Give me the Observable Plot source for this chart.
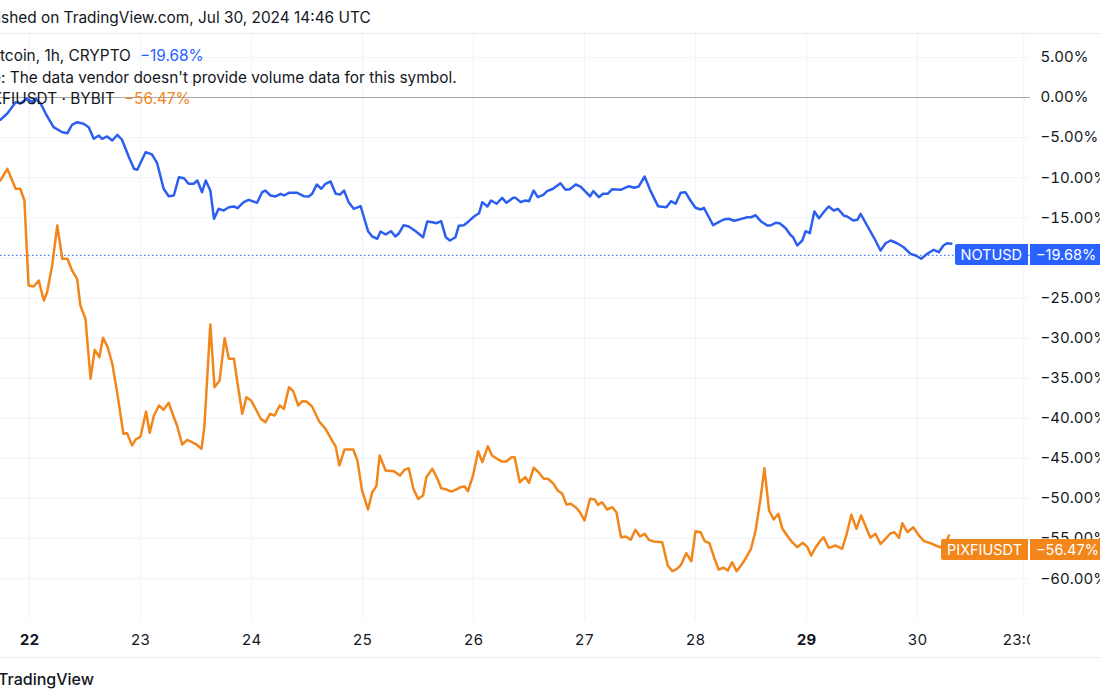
<!DOCTYPE html>
<html>
<head>
<meta charset="utf-8">
<script src="https://cdn.jsdelivr.net/npm/d3@7"></script>
<script src="https://cdn.jsdelivr.net/npm/@observablehq/plot@0.6"></script>
<style>
html,body{margin:0;padding:0;background:#fff;}
body{width:1100px;height:700px;overflow:hidden;position:relative;font-family:Inter,"Noto Sans",sans-serif;color:#131722;}
#chart{position:absolute;left:0;top:0;}
.t{position:absolute;white-space:nowrap;font-size:15.4px;line-height:20px;}
.sep{position:absolute;left:0;width:1100px;height:1px;background:#e9ebf0;}
.box{position:absolute;height:21px;line-height:21px;color:#fff;font-size:14.5px;padding:0 6px;white-space:nowrap;box-sizing:border-box;}
</style>
</head>
<body>
<div id="chart"></div>
<script>
// ---- data ----
// time: hours after 2024-07-22 00:00 UTC, value: % change
const notusd = [[-6.3,-2.78],[-4.8,-2.0],[-3.0,-0.59],[-2.0,-0.75],[-0.5,-0.12],[0.6,-0.59],[1.3,-0.12],[2.4,-0.75],[3.5,-2.0],[5.2,-3.7],[7.1,-4.33],[8.2,-4.45],[9.2,-3.4],[10.3,-3.08],[11.7,-3.28],[12.8,-3.7],[13.9,-5.15],[15.0,-4.74],[15.7,-5.15],[16.8,-4.86],[17.9,-5.36],[19.0,-4.65],[20.0,-5.27],[21.5,-7.44],[22.6,-8.89],[23.3,-9.01],[25.1,-6.82],[26.5,-7.11],[27.6,-8.19],[29.0,-11.38],[30.1,-12.31],[31.2,-12.22],[32.3,-9.94],[33.4,-10.06],[34.4,-10.76],[35.5,-10.76],[36.3,-10.35],[37.3,-11.81],[38.1,-10.35],[39.1,-11.6],[39.9,-15.13],[40.9,-13.88],[42.0,-14.09],[43.1,-13.68],[44.2,-13.59],[45.0,-13.8],[46.3,-13.05],[47.4,-12.76],[49.2,-13.13],[50.3,-11.81],[51.0,-11.6],[52.1,-12.22],[53.2,-12.34],[54.3,-12.01],[55.0,-12.22],[56.1,-11.88],[57.9,-11.88],[59.3,-12.31],[60.4,-12.34],[61.1,-12.01],[62.1,-10.85],[63.1,-11.38],[64.0,-10.76],[65.1,-10.47],[66.2,-12.01],[67.2,-12.09],[68.0,-11.6],[69.0,-13.05],[70.1,-13.88],[71.6,-13.55],[72.3,-14.93],[73.2,-16.67],[74.1,-17.33],[75.2,-17.62],[75.9,-16.71],[77.0,-17.08],[78.2,-16.67],[79.1,-17.33],[79.9,-16.92],[80.9,-15.92],[82.0,-16.08],[83.5,-16.67],[85.1,-17.42],[86.0,-15.46],[87.1,-15.55],[88.0,-15.67],[89.0,-15.42],[90.0,-17.42],[90.9,-17.83],[92.1,-17.42],[92.8,-16.0],[93.9,-15.92],[95.0,-15.42],[96.1,-14.84],[97.2,-14.43],[97.9,-13.05],[99.0,-13.59],[99.8,-12.84],[101.0,-13.25],[102.2,-12.51],[103.1,-13.13],[104.6,-12.51],[105.1,-12.51],[106.2,-13.05],[107.2,-12.84],[108.0,-12.93],[109.0,-11.6],[109.9,-12.43],[111.1,-12.13],[111.9,-11.68],[113.2,-11.38],[114.8,-10.69],[115.9,-11.51],[116.8,-11.43],[118.1,-10.85],[119.1,-11.1],[120.0,-11.6],[121.2,-12.34],[121.9,-11.68],[123.1,-12.43],[124.0,-12.01],[125.0,-12.01],[126.0,-11.43],[127.8,-11.51],[129.6,-11.06],[130.7,-11.26],[131.7,-11.1],[133.0,-9.85],[134.3,-11.68],[135.9,-13.55],[137.7,-13.68],[138.7,-12.93],[139.7,-13.25],[140.8,-11.88],[141.8,-11.81],[142.9,-12.84],[144.0,-13.75],[145.1,-13.97],[145.8,-13.75],[146.9,-14.93],[147.8,-15.92],[149.0,-15.55],[150.1,-15.21],[151.2,-15.12],[152.3,-15.37],[153.7,-15.17],[155.2,-14.93],[156.0,-14.93],[157.0,-14.68],[158.1,-15.42],[159.5,-15.96],[160.2,-15.96],[161.3,-15.62],[162.2,-15.67],[163.5,-16.3],[164.5,-17.12],[165.1,-17.42],[166.0,-18.45],[167.1,-17.83],[167.8,-16.67],[168.7,-16.92],[169.7,-14.21],[170.7,-15.05],[171.7,-14.3],[172.8,-13.59],[173.9,-14.09],[174.8,-13.88],[176.1,-14.75],[176.8,-14.84],[178.1,-15.34],[179.0,-15.25],[179.7,-14.5],[181.1,-15.96],[182.6,-17.49],[184.0,-19.08],[185.1,-18.17],[186.2,-17.83],[187.6,-18.17],[189.0,-18.67],[190.5,-19.49],[191.6,-19.7],[192.8,-20.11],[194.1,-19.49],[195.5,-18.99],[196.6,-19.29],[197.6,-18.45],[198.4,-18.17],[199.3,-18.24]];

const pixfiusdt = [[-6.3,-10.35],[-4.8,-8.89],[-3.0,-11.38],[-2.0,-11.38],[-1.1,-12.84],[-0.2,-23.44],[0.9,-23.57],[2.0,-22.82],[3.1,-25.31],[3.8,-24.28],[4.9,-20.95],[6.0,-15.96],[7.1,-20.11],[8.2,-20.11],[9.2,-21.57],[10.3,-22.61],[11.0,-25.94],[12.1,-27.59],[13.2,-35.07],[14.1,-31.46],[15.1,-32.38],[15.9,-29.96],[16.9,-31.13],[17.9,-33.2],[19.0,-36.95],[20.3,-41.93],[21.1,-41.86],[22.2,-43.39],[22.9,-42.68],[24.0,-42.27],[25.2,-39.15],[26.0,-41.81],[26.9,-39.65],[28.0,-38.4],[29.0,-38.94],[30.1,-38.07],[31.2,-39.86],[31.9,-40.9],[33.0,-43.27],[34.1,-42.68],[35.9,-43.18],[37.2,-43.8],[37.8,-41.11],[39.1,-28.3],[40.0,-36.12],[41.1,-35.29],[42.2,-30.01],[43.1,-32.58],[44.2,-32.58],[45.0,-35.7],[46.0,-39.44],[46.9,-37.37],[47.9,-37.78],[48.9,-38.82],[50.0,-40.06],[51.0,-40.49],[52.0,-39.44],[53.0,-39.65],[54.1,-38.4],[55.0,-38.82],[56.1,-36.12],[57.0,-36.62],[58.1,-38.4],[59.0,-37.87],[59.9,-37.91],[61.1,-38.53],[62.6,-40.36],[64.0,-41.31],[65.1,-42.43],[66.2,-43.52],[67.0,-45.89],[68.1,-43.89],[70.0,-43.89],[70.9,-45.26],[71.9,-49.0],[73.2,-51.37],[74.1,-49.21],[75.0,-48.47],[75.7,-44.64],[77.0,-46.51],[78.8,-46.6],[80.1,-47.13],[81.1,-46.42],[82.0,-46.22],[83.0,-48.79],[84.0,-50.04],[85.1,-49.63],[85.8,-47.34],[87.1,-46.3],[88.2,-47.54],[89.0,-48.72],[90.2,-48.88],[91.2,-49.13],[92.1,-48.92],[93.2,-48.59],[94.1,-48.5],[94.8,-49.09],[95.9,-47.13],[97.0,-44.1],[97.9,-45.47],[99.1,-43.48],[100.0,-44.64],[101.1,-45.05],[102.2,-45.39],[103.1,-45.39],[104.2,-44.85],[104.9,-44.85],[106.0,-47.97],[107.2,-47.34],[108.0,-48.04],[109.0,-46.17],[109.9,-46.63],[111.2,-47.54],[112.1,-47.54],[113.2,-48.09],[114.2,-49.0],[115.2,-49.41],[116.1,-50.75],[117.0,-50.66],[118.1,-51.08],[119.0,-51.71],[120.0,-52.74],[121.2,-50.04],[122.2,-50.12],[122.9,-50.79],[123.8,-50.46],[124.9,-51.37],[126.0,-51.08],[126.9,-51.71],[127.9,-54.83],[128.9,-54.74],[130.0,-55.15],[131.0,-53.9],[132.0,-54.74],[133.0,-54.4],[133.9,-55.15],[135.0,-55.36],[136.8,-55.45],[138.0,-58.35],[139.0,-59.06],[140.0,-58.77],[140.9,-58.23],[142.0,-56.82],[143.1,-57.82],[144.0,-54.08],[145.1,-54.2],[146.0,-55.32],[147.0,-55.57],[148.0,-57.32],[149.0,-58.85],[150.1,-58.64],[151.0,-58.98],[151.9,-57.94],[152.9,-59.06],[154.0,-58.23],[155.0,-57.32],[156.0,-56.27],[157.0,-53.99],[158.1,-49.84],[158.9,-46.22],[159.9,-51.5],[160.9,-52.62],[161.9,-51.91],[162.8,-53.78],[163.8,-54.61],[164.9,-55.45],[166.0,-56.07],[167.2,-55.52],[168.2,-56.07],[169.0,-57.11],[170.0,-56.07],[170.9,-55.32],[171.7,-54.83],[172.8,-56.15],[174.3,-55.86],[175.7,-56.27],[176.7,-54.4],[177.7,-52.03],[178.8,-53.78],[179.8,-52.12],[180.8,-53.49],[181.8,-54.9],[182.9,-54.4],[184.0,-55.65],[185.1,-55.02],[186.2,-54.33],[187.0,-54.2],[188.0,-54.9],[188.7,-53.08],[189.8,-54.2],[191.1,-53.58],[192.3,-54.61],[193.4,-55.32],[194.8,-55.57],[195.9,-55.86],[197.0,-56.07],[197.8,-55.86],[198.8,-54.61]];

const lastValues = {NOTUSD: -19.68, PIXFIUSDT: -56.47};
const yTicks = [5,0,-5,-10,-15,-20,-25,-30,-35,-40,-45,-50,-55,-60];
const yLabelTicks = [5,0,-5,-10,-15,-25,-30,-35,-40,-45,-50,-55,-60];
const xTickDates = ["2024-07-22T00:00Z","2024-07-23T00:00Z","2024-07-24T00:00Z","2024-07-25T00:00Z","2024-07-26T00:00Z","2024-07-27T00:00Z","2024-07-28T00:00Z","2024-07-29T00:00Z","2024-07-30T00:00Z","2024-07-30T23:00Z"];
const xTickLabels = ["22","23","24","25","26","27","28","29","30","23:00"];
const xBoldLabels = ["22","29"];
const xDomainHours = [-6.27, 216.43];
const yDomain = [-65.21, 7.855];

const BLUE = "#2962FF", ORANGE = "#F2861B", GRID = "#f0f3fa";
const FONT = 'Inter, "Noto Sans", sans-serif';

const base = Date.UTC(2024, 6, 22);
const toDate = h => new Date(base + h * 3600e3);
const notData = notusd.map(([h, v]) => ({date: toDate(h), value: v}));
const pixData = pixfiusdt.map(([h, v]) => ({date: toDate(h), value: v}));
const xTicks = xTickDates.map(s => new Date(s));
const labelOf = d => xTickLabels[xTicks.findIndex(t => +t === +d)];
const boldTicks = xTicks.filter(d => xBoldLabels.includes(labelOf(d)));
const normalTicks = xTicks.filter(d => !xBoldLabels.includes(labelOf(d)));
const pct = d => (d < 0 ? "\u2212" : "") + Math.abs(d).toFixed(2) + "%";

const plot = Plot.plot({
  width: 1100, height: 660,
  marginTop: 34, marginBottom: 40, marginLeft: 0, marginRight: 70,
  style: {fontFamily: FONT, fontSize: "15px", color: "#131722", background: "transparent", overflow: "visible"},
  x: {type: "utc", domain: xDomainHours.map(toDate), axis: null},
  y: {domain: yDomain, axis: null},
  marks: [
    Plot.gridX(xTicks, {stroke: GRID, strokeOpacity: 1}),
    Plot.gridY(yTicks, {stroke: GRID, strokeOpacity: 1}),
    Plot.ruleY([0], {stroke: "#a3a6ae", strokeWidth: 1}),
    Plot.ruleY([lastValues.NOTUSD], {stroke: BLUE, strokeWidth: 1, strokeDasharray: "1.5,2.5"}),
    Plot.line(pixData, {x: "date", y: "value", stroke: ORANGE, strokeWidth: 2.5, curve: "linear"}),
    Plot.line(notData, {x: "date", y: "value", stroke: "#2c5ff0", strokeWidth: 2.5, curve: "linear"}),
    Plot.axisY(yLabelTicks, {anchor: "right", tickSize: 0, tickPadding: 10, tickFormat: pct, textAnchor: "start", fill: "#131722", fontSize: 15, label: null}),
    Plot.axisX(normalTicks, {anchor: "bottom", tickSize: 0, tickPadding: 14, tickFormat: labelOf, fill: "#131722", fontSize: 15, label: null}),
    Plot.axisX(boldTicks, {anchor: "bottom", tickSize: 0, tickPadding: 14, tickFormat: labelOf, fill: "#131722", fontSize: 15, fontWeight: "bold", label: null})
  ]
});
document.getElementById("chart").appendChild(plot);

// clip the time-axis labels at the right edge of the pane (as the reference does)
const svg = d3.select(plot);
const defs = svg.insert("defs", ":first-child");
defs.append("clipPath").attr("id", "paneclip").attr("clipPathUnits", "userSpaceOnUse")
  .append("rect").attr("x", -2000).attr("y", -2000).attr("width", 2000 + 1030).attr("height", 4000);
const lastLabel = svg.selectAll("text").filter(function() { return this.textContent === "23:00"; }).node();
if (lastLabel) {
  // wrap the label in an untransformed group so the clip is in page coordinates
  const parent = lastLabel.parentNode;
  let offX = 0;
  const m = parent.getAttribute("transform") && parent.getAttribute("transform").match(/translate\(\s*([-\d.]+)/);
  if (m) offX = +m[1];
  const wrap = document.createElementNS("http://www.w3.org/2000/svg", "g");
  parent.insertBefore(wrap, lastLabel);
  wrap.appendChild(lastLabel);
  d3.select(wrap).attr("clip-path", "url(#paneclip2)");
  defs.append("clipPath").attr("id", "paneclip2").attr("clipPathUnits", "userSpaceOnUse")
    .append("rect").attr("x", -2000).attr("y", -2000).attr("width", 2000 + 1030 - offX).attr("height", 4000);
}

const yScale = plot.scale("y");
const body = document.body;
function addText(html, left, top, extra) {
  const d = document.createElement("div");
  d.className = "t";
  d.innerHTML = html;
  d.style.left = left + "px";
  d.style.top = top + "px";
  if (extra) Object.assign(d.style, extra);
  body.appendChild(d);
  return d;
}
const ctx = document.createElement("canvas").getContext("2d");
const measure = (s, px = 15.4, w = "normal") => { ctx.font = `${w} ${px}px ${FONT}`; return ctx.measureText(s).width; };

// header and legend (the reference is cropped on the left)
addText("Published on TradingView.com, Jul 30, 2024 14:46 UTC", 1 - measure("Publi"), 8);
addText(`Notcoin, 1h, CRYPTO<span style="margin-left:9px;color:${BLUE}">\u221219.68%</span>`, 5 - measure("Not"), 46);
addText("Volume: The data vendor doesn't provide volume data for this symbol.", 1 - measure("Volume"), 68);
addText(`PIXFIUSDT \u00b7 BYBIT<span style="margin-left:9px;color:${ORANGE}">\u221256.47%</span>`, 2 - measure("PIX"), 89);

const s1 = document.createElement("div"); s1.className = "sep"; s1.style.top = "33px"; body.appendChild(s1);
const s2 = document.createElement("div"); s2.className = "sep"; s2.style.top = "657px"; body.appendChild(s2);
addText("TradingView", -2, 669, {fontSize: "16px", fontWeight: "500"});

// last-value labels on the price scale
function priceLabel(name, value, color) {
  const y = yScale.apply(value);
  const a = document.createElement("div");
  a.className = "box"; a.textContent = name;
  a.style.background = color; a.style.right = (1100 - 1028) + "px"; a.style.top = (y - 10.5) + "px";
  a.style.borderRadius = "2px 0 0 2px";
  body.appendChild(a);
  const b = document.createElement("div");
  b.className = "box"; b.textContent = pct(value);
  b.style.background = color; b.style.left = "1030px"; b.style.top = (y - 10.5) + "px"; b.style.width = "90px";
  body.appendChild(b);
}
priceLabel("NOTUSD", lastValues.NOTUSD, BLUE);
priceLabel("PIXFIUSDT", lastValues.PIXFIUSDT, ORANGE);
</script>
</body>
</html>
